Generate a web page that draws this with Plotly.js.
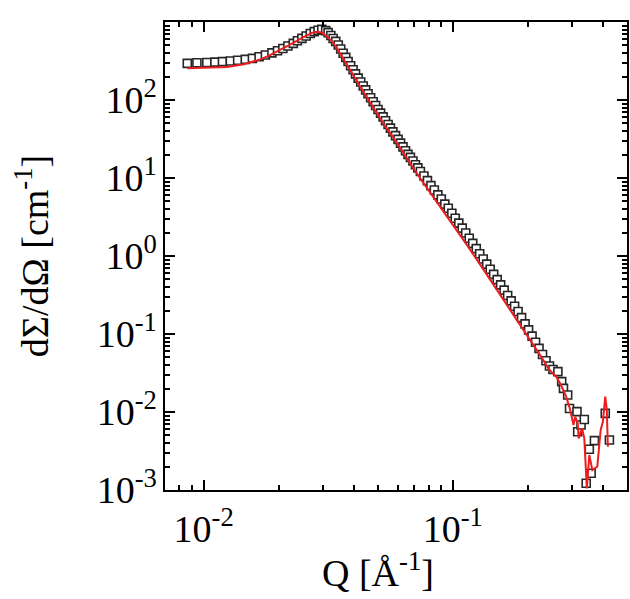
<!DOCTYPE html>
<html>
<head>
<meta charset="utf-8">
<script src="https://cdn.plot.ly/plotly-3.0.1.min.js"></script>
<style>
  html, body { margin: 0; padding: 0; background: #ffffff; }
  #chart { width: 630px; height: 599px; }
</style>
</head>
<body>
<div id="chart"></div>
<script>
// Measured scattering data (open squares): Q [1/Å] and dΣ/dΩ [1/cm]
const qMeasured = [
  0.0086, 0.0094, 0.0103, 0.0111, 0.0119, 0.0128, 0.0137, 0.0147, 0.0157, 0.0167,
  0.0177, 0.0188, 0.0198, 0.0208, 0.0218, 0.0229, 0.0238, 0.0248, 0.0258, 0.0268,
  0.0278, 0.0288, 0.0298,
  0.0309, 0.0316, 0.0324, 0.0331, 0.0339, 0.0347, 0.0355, 0.0363, 0.0372, 0.0380,
  0.0389, 0.0398, 0.0407, 0.0417, 0.0427, 0.0437, 0.0447, 0.0457, 0.0468, 0.0479,
  0.0490, 0.0501, 0.0513, 0.0525, 0.0537, 0.0550, 0.0562, 0.0575, 0.0589, 0.0603,
  0.0617, 0.0631, 0.0646, 0.0661, 0.0676, 0.0692, 0.0708, 0.0724, 0.0741,
  0.0766, 0.0791, 0.0817, 0.0843, 0.0871, 0.0899, 0.0929, 0.0959, 0.0991, 0.1023,
  0.1057, 0.1091, 0.1127, 0.1164, 0.1202, 0.1242, 0.1282, 0.1324, 0.1368, 0.1413,
  0.1459, 0.1507, 0.1556, 0.1607, 0.1660, 0.1714, 0.1770, 0.1828, 0.1888, 0.1950,
  0.2014, 0.2080, 0.2148, 0.2218, 0.2291, 0.2366, 0.2443, 0.2523,
  0.264, 0.2735, 0.278, 0.289, 0.294, 0.315, 0.317, 0.327, 0.337, 0.343,
  0.353, 0.359, 0.370, 0.409, 0.425
];
const iMeasured = [
  295, 300, 303, 306, 310, 316, 323, 332, 342, 358,
  377, 402, 428, 458, 492, 532, 575, 617, 662, 712,
  752, 785, 805,
  776, 730, 670, 615, 564, 508, 450, 397, 352, 311,
  275, 244, 216, 191, 170, 151, 135, 120, 107, 95,
  85, 75.7, 67.8, 60.7, 54.3, 48.6, 43.6, 39.0, 34.9, 31.3,
  28.0, 25.1, 22.4, 20.1, 18.4, 16.5, 14.8, 13.5, 12.1,
  10.6, 9.25, 7.98, 7.03, 6.08, 5.37, 4.63, 4.09, 3.54, 3.05,
  2.64, 2.28, 1.97, 1.69, 1.45, 1.245, 1.07, 0.916, 0.787, 0.676,
  0.581, 0.498, 0.427, 0.365, 0.311, 0.266, 0.227, 0.194, 0.162, 0.135,
  0.113, 0.094, 0.0783, 0.0655, 0.0546, 0.0455, 0.0389, 0.035,
  0.0329, 0.0245, 0.0201, 0.0165, 0.0111, 0.0101, 0.00559, 0.0068, 0.0080, 0.00122,
  0.00333, 0.00164, 0.00429, 0.0096, 0.00437
];

// Model curve (red line)
const qModel = [
  0.0086, 0.0105, 0.0124, 0.0145, 0.0155, 0.0169, 0.0183, 0.0197, 0.0213, 0.0230,
  0.0245, 0.0260, 0.0272, 0.0285, 0.0298, 0.0313, 0.0328, 0.0343, 0.0360, 0.0376,
  0.0400, 0.0425, 0.0460, 0.0495, 0.0535, 0.0577, 0.0614, 0.0673, 0.0750, 0.0834,
  0.0950, 0.1135, 0.1330, 0.1540, 0.1800, 0.2094, 0.2250, 0.2443, 0.2600, 0.2720,
  0.2850, 0.2950, 0.3050, 0.3100, 0.3170, 0.3200, 0.3300, 0.3370, 0.3450, 0.3530,
  0.3630, 0.3800, 0.3920, 0.4000, 0.4090, 0.4150, 0.4190
];
const iModel = [
  255, 258, 265, 287, 305, 332, 370, 416, 478, 543,
  612, 681, 725, 752, 735, 649, 560, 459, 360, 281,
  205, 148, 98, 68, 46, 33, 24.2, 15.6, 9.3, 5.75,
  3.18, 1.41, 0.665, 0.331, 0.154, 0.0745, 0.0524, 0.0345, 0.0284, 0.022,
  0.0157, 0.011, 0.0068, 0.0087, 0.00716, 0.00459, 0.0062, 0.00459, 0.00105, 0.00281,
  0.0018, 0.002, 0.00589, 0.0075, 0.0157, 0.0106, 0.00359
];

// Axis tick labels (Plotly's decade labels aliased to the figure's wording)
const M = '\u2212';
const xLabelAlias = {};
xLabelAlias['10<sup>' + M + '2</sup>'] = '10<sup>-2</sup>';
xLabelAlias['10<sup>' + M + '1</sup>'] = '10<sup>-1</sup>';
const yLabelAlias = {};
yLabelAlias['10<sup>' + M + '3</sup>'] = '10<sup>-3</sup>';
yLabelAlias['10<sup>' + M + '2</sup>'] = '10<sup>-2</sup>';
yLabelAlias['10<sup>' + M + '1</sup>'] = '10<sup>-1</sup>';
yLabelAlias['1'] = '10<sup>0</sup>';
yLabelAlias['10'] = '10<sup>1</sup>';
const xTitle = 'Q [Å<sup>-1</sup>]';
const yTitle = 'dΣ/dΩ [cm<sup>-1</sup>]';

const serif = "'Liberation Serif', 'Times New Roman', serif";
const xRange = [Math.log10(0.007), Math.log10(0.5)];
const yRange = [-3, 3];

const traces = [
  {
    x: qMeasured, y: iMeasured,
    type: 'scatter', mode: 'markers',
    marker: { symbol: 'square', size: 8, color: '#ffffff',
              line: { color: '#262626', width: 1.6 } },
    showlegend: false, hoverinfo: 'x+y'
  },
  {
    x: qModel, y: iModel,
    type: 'scatter', mode: 'lines',
    line: { color: '#ee1c1c', width: 2 },
    showlegend: false, hoverinfo: 'x+y'
  }
];

const axisCommon = {
  type: 'log',
  showgrid: false, zeroline: false,
  showline: true, linecolor: 'black', linewidth: 2,
  mirror: 'ticks',
  ticks: 'inside', ticklen: 10, tickwidth: 2, tickcolor: 'black',
  tickmode: 'linear', tick0: 0, dtick: 1,
  exponentformat: 'power',
  tickfont: { family: serif, size: 30.4, color: 'black' },
  minor: { ticks: 'inside', ticklen: 5, tickwidth: 2, tickcolor: 'black', showgrid: false }
};

const layout = {
  width: 630, height: 599,
  margin: { l: 165, r: 3, t: 22, b: 109 },
  paper_bgcolor: 'white', plot_bgcolor: 'white',
  font: { family: serif, color: 'black' },
  xaxis: Object.assign({}, axisCommon, {
    range: xRange, ticklabelstandoff: 6, labelalias: xLabelAlias
  }),
  yaxis: Object.assign({}, axisCommon, {
    range: yRange, labelalias: yLabelAlias,
    title: { text: yTitle, font: { family: serif, size: 38, color: 'black' }, standoff: 36 }
  }),
  annotations: [{
    text: xTitle, xref: 'paper', yref: 'paper',
    x: 0.462, y: -0.172, xanchor: 'center', yanchor: 'middle',
    showarrow: false, font: { family: serif, size: 38, color: 'black' }
  }]
};

Plotly.newPlot('chart', traces, layout, { displayModeBar: false });
</script>
</body>
</html>
